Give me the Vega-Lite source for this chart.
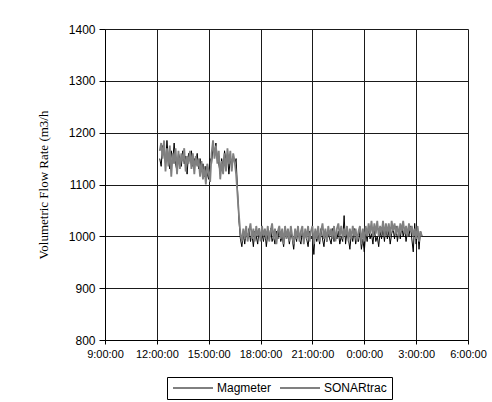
{
  "$schema": "https://vega.github.io/schema/vega-lite/v6.json",
  "width": 363,
  "height": 311,
  "autosize": {"type": "none"},
  "padding": {"left": 105, "top": 29, "right": 24, "bottom": 62},
  "background": "#ffffff",
  "config": {
    "view": {"stroke": null},
    "axis": {
      "labelFont": "Liberation Sans",
      "labelColor": "#000000",
      "domainColor": "#000000",
      "tickColor": "#000000",
      "gridColor": "#1a1a1a",
      "gridOpacity": 1,
      "gridWidth": 1
    },
    "legend": {
      "orient": "none",
      "legendX": 62,
      "legendY": 348,
      "direction": "horizontal",
      "strokeColor": "#000000",
      "strokeWidth": 1,
      "padding": 5,
      "symbolType": "M-1,0H7",
      "symbolSize": 100,
      "symbolStrokeWidth": 1,
      "labelFont": "Liberation Sans",
      "labelFontSize": 12,
      "labelColor": "#000000",
      "labelOffset": 33,
      "columnPadding": 4
    }
  },
  "data": {
    "values": [
      {"t": "2000-01-01T12:10", "Magmeter": 1150, "SONARtrac": 1165},
      {"t": "2000-01-01T12:15", "Magmeter": 1135, "SONARtrac": 1180},
      {"t": "2000-01-01T12:20", "Magmeter": 1175, "SONARtrac": 1150},
      {"t": "2000-01-01T12:25", "Magmeter": 1160, "SONARtrac": 1185},
      {"t": "2000-01-01T12:30", "Magmeter": 1140, "SONARtrac": 1125},
      {"t": "2000-01-01T12:35", "Magmeter": 1185, "SONARtrac": 1170},
      {"t": "2000-01-01T12:40", "Magmeter": 1150, "SONARtrac": 1135},
      {"t": "2000-01-01T12:45", "Magmeter": 1130, "SONARtrac": 1175},
      {"t": "2000-01-01T12:50", "Magmeter": 1165, "SONARtrac": 1115},
      {"t": "2000-01-01T12:55", "Magmeter": 1145, "SONARtrac": 1160},
      {"t": "2000-01-01T13:00", "Magmeter": 1180, "SONARtrac": 1140},
      {"t": "2000-01-01T13:05", "Magmeter": 1140, "SONARtrac": 1170},
      {"t": "2000-01-01T13:10", "Magmeter": 1125, "SONARtrac": 1120},
      {"t": "2000-01-01T13:15", "Magmeter": 1160, "SONARtrac": 1165},
      {"t": "2000-01-01T13:20", "Magmeter": 1150, "SONARtrac": 1130},
      {"t": "2000-01-01T13:25", "Magmeter": 1135, "SONARtrac": 1160},
      {"t": "2000-01-01T13:30", "Magmeter": 1165, "SONARtrac": 1145},
      {"t": "2000-01-01T13:35", "Magmeter": 1140, "SONARtrac": 1170},
      {"t": "2000-01-01T13:40", "Magmeter": 1155, "SONARtrac": 1125},
      {"t": "2000-01-01T13:45", "Magmeter": 1120, "SONARtrac": 1155},
      {"t": "2000-01-01T13:50", "Magmeter": 1160, "SONARtrac": 1140},
      {"t": "2000-01-01T13:55", "Magmeter": 1145, "SONARtrac": 1165},
      {"t": "2000-01-01T14:00", "Magmeter": 1165, "SONARtrac": 1130},
      {"t": "2000-01-01T14:05", "Magmeter": 1135, "SONARtrac": 1160},
      {"t": "2000-01-01T14:10", "Magmeter": 1150, "SONARtrac": 1120},
      {"t": "2000-01-01T14:15", "Magmeter": 1140, "SONARtrac": 1155},
      {"t": "2000-01-01T14:20", "Magmeter": 1160, "SONARtrac": 1135},
      {"t": "2000-01-01T14:25", "Magmeter": 1130, "SONARtrac": 1150},
      {"t": "2000-01-01T14:30", "Magmeter": 1150, "SONARtrac": 1115},
      {"t": "2000-01-01T14:35", "Magmeter": 1125, "SONARtrac": 1145},
      {"t": "2000-01-01T14:40", "Magmeter": 1140, "SONARtrac": 1110},
      {"t": "2000-01-01T14:45", "Magmeter": 1115, "SONARtrac": 1135},
      {"t": "2000-01-01T14:50", "Magmeter": 1135, "SONARtrac": 1100},
      {"t": "2000-01-01T14:55", "Magmeter": 1120, "SONARtrac": 1140},
      {"t": "2000-01-01T15:00", "Magmeter": 1110, "SONARtrac": 1125},
      {"t": "2000-01-01T15:05", "Magmeter": 1150, "SONARtrac": 1105},
      {"t": "2000-01-01T15:10", "Magmeter": 1140, "SONARtrac": 1160},
      {"t": "2000-01-01T15:15", "Magmeter": 1175, "SONARtrac": 1185},
      {"t": "2000-01-01T15:20", "Magmeter": 1160, "SONARtrac": 1150},
      {"t": "2000-01-01T15:25", "Magmeter": 1180, "SONARtrac": 1175},
      {"t": "2000-01-01T15:30", "Magmeter": 1150, "SONARtrac": 1140},
      {"t": "2000-01-01T15:35", "Magmeter": 1140, "SONARtrac": 1165},
      {"t": "2000-01-01T15:40", "Magmeter": 1120, "SONARtrac": 1110},
      {"t": "2000-01-01T15:45", "Magmeter": 1150, "SONARtrac": 1145},
      {"t": "2000-01-01T15:50", "Magmeter": 1130, "SONARtrac": 1120},
      {"t": "2000-01-01T15:55", "Magmeter": 1165, "SONARtrac": 1160},
      {"t": "2000-01-01T16:00", "Magmeter": 1145, "SONARtrac": 1125},
      {"t": "2000-01-01T16:05", "Magmeter": 1160, "SONARtrac": 1170},
      {"t": "2000-01-01T16:10", "Magmeter": 1120, "SONARtrac": 1140},
      {"t": "2000-01-01T16:15", "Magmeter": 1150, "SONARtrac": 1165},
      {"t": "2000-01-01T16:20", "Magmeter": 1135, "SONARtrac": 1125},
      {"t": "2000-01-01T16:25", "Magmeter": 1155, "SONARtrac": 1160},
      {"t": "2000-01-01T16:30", "Magmeter": 1140, "SONARtrac": 1145},
      {"t": "2000-01-01T16:35", "Magmeter": 1150, "SONARtrac": 1120},
      {"t": "2000-01-01T16:40", "Magmeter": 1090, "SONARtrac": 1080},
      {"t": "2000-01-01T16:45", "Magmeter": 1030, "SONARtrac": 1040},
      {"t": "2000-01-01T16:50", "Magmeter": 995, "SONARtrac": 1005},
      {"t": "2000-01-01T16:55", "Magmeter": 980, "SONARtrac": 990},
      {"t": "2000-01-01T17:00", "Magmeter": 1005, "SONARtrac": 1015},
      {"t": "2000-01-01T17:05", "Magmeter": 985, "SONARtrac": 995},
      {"t": "2000-01-01T17:10", "Magmeter": 1010, "SONARtrac": 1020},
      {"t": "2000-01-01T17:15", "Magmeter": 995, "SONARtrac": 990},
      {"t": "2000-01-01T17:20", "Magmeter": 1015, "SONARtrac": 1010},
      {"t": "2000-01-01T17:25", "Magmeter": 990, "SONARtrac": 1025},
      {"t": "2000-01-01T17:30", "Magmeter": 1005, "SONARtrac": 995},
      {"t": "2000-01-01T17:35", "Magmeter": 980, "SONARtrac": 1015},
      {"t": "2000-01-01T17:40", "Magmeter": 1010, "SONARtrac": 990},
      {"t": "2000-01-01T17:45", "Magmeter": 1000, "SONARtrac": 1020},
      {"t": "2000-01-01T17:50", "Magmeter": 985, "SONARtrac": 1000},
      {"t": "2000-01-01T17:55", "Magmeter": 1015, "SONARtrac": 1015},
      {"t": "2000-01-01T18:00", "Magmeter": 995, "SONARtrac": 990},
      {"t": "2000-01-01T18:05", "Magmeter": 1005, "SONARtrac": 1020},
      {"t": "2000-01-01T18:10", "Magmeter": 990, "SONARtrac": 1000},
      {"t": "2000-01-01T18:15", "Magmeter": 1010, "SONARtrac": 1015},
      {"t": "2000-01-01T18:20", "Magmeter": 980, "SONARtrac": 995},
      {"t": "2000-01-01T18:25", "Magmeter": 1005, "SONARtrac": 1020},
      {"t": "2000-01-01T18:30", "Magmeter": 995, "SONARtrac": 990},
      {"t": "2000-01-01T18:35", "Magmeter": 1015, "SONARtrac": 1010},
      {"t": "2000-01-01T18:40", "Magmeter": 990, "SONARtrac": 1025},
      {"t": "2000-01-01T18:45", "Magmeter": 1000, "SONARtrac": 995},
      {"t": "2000-01-01T18:50", "Magmeter": 985, "SONARtrac": 1015},
      {"t": "2000-01-01T18:55", "Magmeter": 1010, "SONARtrac": 985},
      {"t": "2000-01-01T19:00", "Magmeter": 995, "SONARtrac": 1010},
      {"t": "2000-01-01T19:05", "Magmeter": 1015, "SONARtrac": 1020},
      {"t": "2000-01-01T19:10", "Magmeter": 990, "SONARtrac": 995},
      {"t": "2000-01-01T19:15", "Magmeter": 1000, "SONARtrac": 1015},
      {"t": "2000-01-01T19:20", "Magmeter": 980, "SONARtrac": 985},
      {"t": "2000-01-01T19:25", "Magmeter": 1010, "SONARtrac": 1020},
      {"t": "2000-01-01T19:30", "Magmeter": 995, "SONARtrac": 995},
      {"t": "2000-01-01T19:35", "Magmeter": 1005, "SONARtrac": 1015},
      {"t": "2000-01-01T19:40", "Magmeter": 985, "SONARtrac": 990},
      {"t": "2000-01-01T19:45", "Magmeter": 1010, "SONARtrac": 1020},
      {"t": "2000-01-01T19:50", "Magmeter": 995, "SONARtrac": 1000},
      {"t": "2000-01-01T19:55", "Magmeter": 975, "SONARtrac": 985},
      {"t": "2000-01-01T20:00", "Magmeter": 1005, "SONARtrac": 1015},
      {"t": "2000-01-01T20:05", "Magmeter": 990, "SONARtrac": 995},
      {"t": "2000-01-01T20:10", "Magmeter": 1015, "SONARtrac": 1020},
      {"t": "2000-01-01T20:15", "Magmeter": 995, "SONARtrac": 990},
      {"t": "2000-01-01T20:20", "Magmeter": 985, "SONARtrac": 1010},
      {"t": "2000-01-01T20:25", "Magmeter": 1010, "SONARtrac": 1020},
      {"t": "2000-01-01T20:30", "Magmeter": 990, "SONARtrac": 985},
      {"t": "2000-01-01T20:35", "Magmeter": 1005, "SONARtrac": 1015},
      {"t": "2000-01-01T20:40", "Magmeter": 995, "SONARtrac": 995},
      {"t": "2000-01-01T20:45", "Magmeter": 980, "SONARtrac": 1020},
      {"t": "2000-01-01T20:50", "Magmeter": 1010, "SONARtrac": 990},
      {"t": "2000-01-01T20:55", "Magmeter": 995, "SONARtrac": 1010},
      {"t": "2000-01-01T21:00", "Magmeter": 1000, "SONARtrac": 1020},
      {"t": "2000-01-01T21:05", "Magmeter": 965, "SONARtrac": 985},
      {"t": "2000-01-01T21:10", "Magmeter": 1010, "SONARtrac": 1015},
      {"t": "2000-01-01T21:15", "Magmeter": 990, "SONARtrac": 995},
      {"t": "2000-01-01T21:20", "Magmeter": 1005, "SONARtrac": 1020},
      {"t": "2000-01-01T21:25", "Magmeter": 985, "SONARtrac": 990},
      {"t": "2000-01-01T21:30", "Magmeter": 1015, "SONARtrac": 1010},
      {"t": "2000-01-01T21:35", "Magmeter": 995, "SONARtrac": 1025},
      {"t": "2000-01-01T21:40", "Magmeter": 980, "SONARtrac": 995},
      {"t": "2000-01-01T21:45", "Magmeter": 1010, "SONARtrac": 1015},
      {"t": "2000-01-01T21:50", "Magmeter": 990, "SONARtrac": 990},
      {"t": "2000-01-01T21:55", "Magmeter": 1005, "SONARtrac": 1020},
      {"t": "2000-01-01T22:00", "Magmeter": 995, "SONARtrac": 1000},
      {"t": "2000-01-01T22:05", "Magmeter": 985, "SONARtrac": 1015},
      {"t": "2000-01-01T22:10", "Magmeter": 1015, "SONARtrac": 995},
      {"t": "2000-01-01T22:15", "Magmeter": 990, "SONARtrac": 1020},
      {"t": "2000-01-01T22:20", "Magmeter": 1005, "SONARtrac": 990},
      {"t": "2000-01-01T22:25", "Magmeter": 995, "SONARtrac": 1015},
      {"t": "2000-01-01T22:30", "Magmeter": 1010, "SONARtrac": 1025},
      {"t": "2000-01-01T22:35", "Magmeter": 985, "SONARtrac": 1000},
      {"t": "2000-01-01T22:40", "Magmeter": 1000, "SONARtrac": 1020},
      {"t": "2000-01-01T22:45", "Magmeter": 990, "SONARtrac": 995},
      {"t": "2000-01-01T22:50", "Magmeter": 1040, "SONARtrac": 1015},
      {"t": "2000-01-01T22:55", "Magmeter": 985, "SONARtrac": 1000},
      {"t": "2000-01-01T23:00", "Magmeter": 1010, "SONARtrac": 1020},
      {"t": "2000-01-01T23:05", "Magmeter": 995, "SONARtrac": 990},
      {"t": "2000-01-01T23:10", "Magmeter": 975, "SONARtrac": 1015},
      {"t": "2000-01-01T23:15", "Magmeter": 1005, "SONARtrac": 995},
      {"t": "2000-01-01T23:20", "Magmeter": 990, "SONARtrac": 1020},
      {"t": "2000-01-01T23:25", "Magmeter": 1015, "SONARtrac": 1000},
      {"t": "2000-01-01T23:30", "Magmeter": 985, "SONARtrac": 1015},
      {"t": "2000-01-01T23:35", "Magmeter": 1000, "SONARtrac": 990},
      {"t": "2000-01-01T23:40", "Magmeter": 990, "SONARtrac": 1010},
      {"t": "2000-01-01T23:45", "Magmeter": 1010, "SONARtrac": 1020},
      {"t": "2000-01-01T23:50", "Magmeter": 975, "SONARtrac": 985},
      {"t": "2000-01-01T23:55", "Magmeter": 995, "SONARtrac": 1015},
      {"t": "2000-01-02T00:00", "Magmeter": 970, "SONARtrac": 990},
      {"t": "2000-01-02T00:05", "Magmeter": 1010, "SONARtrac": 1020},
      {"t": "2000-01-02T00:10", "Magmeter": 990, "SONARtrac": 1000},
      {"t": "2000-01-02T00:15", "Magmeter": 1020, "SONARtrac": 1025},
      {"t": "2000-01-02T00:20", "Magmeter": 995, "SONARtrac": 1005},
      {"t": "2000-01-02T00:25", "Magmeter": 1005, "SONARtrac": 1030},
      {"t": "2000-01-02T00:30", "Magmeter": 985, "SONARtrac": 1000},
      {"t": "2000-01-02T00:35", "Magmeter": 1015, "SONARtrac": 1025},
      {"t": "2000-01-02T00:40", "Magmeter": 990, "SONARtrac": 1005},
      {"t": "2000-01-02T00:45", "Magmeter": 1000, "SONARtrac": 1030},
      {"t": "2000-01-02T00:50", "Magmeter": 980, "SONARtrac": 1000},
      {"t": "2000-01-02T00:55", "Magmeter": 1010, "SONARtrac": 1020},
      {"t": "2000-01-02T01:00", "Magmeter": 995, "SONARtrac": 1005},
      {"t": "2000-01-02T01:05", "Magmeter": 1015, "SONARtrac": 1030},
      {"t": "2000-01-02T01:10", "Magmeter": 990, "SONARtrac": 1000},
      {"t": "2000-01-02T01:15", "Magmeter": 1020, "SONARtrac": 1025},
      {"t": "2000-01-02T01:20", "Magmeter": 995, "SONARtrac": 1005},
      {"t": "2000-01-02T01:25", "Magmeter": 1010, "SONARtrac": 1025},
      {"t": "2000-01-02T01:30", "Magmeter": 985, "SONARtrac": 1000},
      {"t": "2000-01-02T01:35", "Magmeter": 1005, "SONARtrac": 1030},
      {"t": "2000-01-02T01:40", "Magmeter": 1015, "SONARtrac": 1010},
      {"t": "2000-01-02T01:45", "Magmeter": 995, "SONARtrac": 1025},
      {"t": "2000-01-02T01:50", "Magmeter": 1020, "SONARtrac": 1005},
      {"t": "2000-01-02T01:55", "Magmeter": 990, "SONARtrac": 1020},
      {"t": "2000-01-02T02:00", "Magmeter": 1010, "SONARtrac": 1000},
      {"t": "2000-01-02T02:05", "Magmeter": 995, "SONARtrac": 1025},
      {"t": "2000-01-02T02:10", "Magmeter": 1020, "SONARtrac": 1010},
      {"t": "2000-01-02T02:15", "Magmeter": 1000, "SONARtrac": 1030},
      {"t": "2000-01-02T02:20", "Magmeter": 1015, "SONARtrac": 1005},
      {"t": "2000-01-02T02:25", "Magmeter": 990, "SONARtrac": 1020},
      {"t": "2000-01-02T02:30", "Magmeter": 1010, "SONARtrac": 1000},
      {"t": "2000-01-02T02:35", "Magmeter": 1000, "SONARtrac": 1025},
      {"t": "2000-01-02T02:40", "Magmeter": 1020, "SONARtrac": 1010},
      {"t": "2000-01-02T02:45", "Magmeter": 995, "SONARtrac": 1020},
      {"t": "2000-01-02T02:50", "Magmeter": 970, "SONARtrac": 1000},
      {"t": "2000-01-02T02:55", "Magmeter": 1025, "SONARtrac": 1015},
      {"t": "2000-01-02T03:00", "Magmeter": 985, "SONARtrac": 995},
      {"t": "2000-01-02T03:05", "Magmeter": 1015, "SONARtrac": 1020},
      {"t": "2000-01-02T03:10", "Magmeter": 975, "SONARtrac": 990},
      {"t": "2000-01-02T03:15", "Magmeter": 1010, "SONARtrac": 1010},
      {"t": "2000-01-02T03:20", "Magmeter": 1000, "SONARtrac": 1000}
    ]
  },
  "transform": [
    {"fold": ["Magmeter", "SONARtrac"], "as": ["series", "v"]}
  ],
  "mark": {"type": "line", "interpolate": "linear", "clip": true},
  "encoding": {
    "x": {
      "field": "t",
      "type": "temporal",
      "title": null,
      "scale": {
        "domain": [
          {"year": 2000, "month": 1, "date": 1, "hours": 9},
          {"year": 2000, "month": 1, "date": 2, "hours": 6}
        ],
        "nice": false
      },
      "axis": {
        "values": [
          {"year": 2000, "month": 1, "date": 1, "hours": 9},
          {"year": 2000, "month": 1, "date": 1, "hours": 12},
          {"year": 2000, "month": 1, "date": 1, "hours": 15},
          {"year": 2000, "month": 1, "date": 1, "hours": 18},
          {"year": 2000, "month": 1, "date": 1, "hours": 21},
          {"year": 2000, "month": 1, "date": 2, "hours": 0},
          {"year": 2000, "month": 1, "date": 2, "hours": 3},
          {"year": 2000, "month": 1, "date": 2, "hours": 6}
        ],
        "format": "%-H:%M:%S",
        "labelFontSize": 11,
        "labelPadding": 4,
        "tickSize": 4,
        "labelFlush": false,
        "labelOverlap": false,
        "grid": true
      }
    },
    "y": {
      "field": "v",
      "type": "quantitative",
      "scale": {"domain": [800, 1400], "nice": false, "zero": false},
      "axis": {
        "values": [800, 900, 1000, 1100, 1200, 1300, 1400],
        "format": "d",
        "title": "Volumetric Flow Rate (m3/h",
        "titleFont": "Liberation Serif",
        "titleFontSize": 13,
        "titleFontWeight": "normal",
        "titleColor": "#000000",
        "titlePadding": 18,
        "labelFontSize": 12,
        "labelPadding": 4,
        "tickSize": 6,
        "labelFlush": false,
        "grid": true
      }
    },
    "color": {
      "field": "series",
      "type": "nominal",
      "scale": {"domain": ["Magmeter", "SONARtrac"], "range": ["#000000", "#808080"]},
      "legend": {"title": null}
    },
    "strokeWidth": {
      "field": "series",
      "type": "nominal",
      "scale": {"domain": ["Magmeter", "SONARtrac"], "range": [1, 1.8]},
      "legend": null
    }
  }
}
